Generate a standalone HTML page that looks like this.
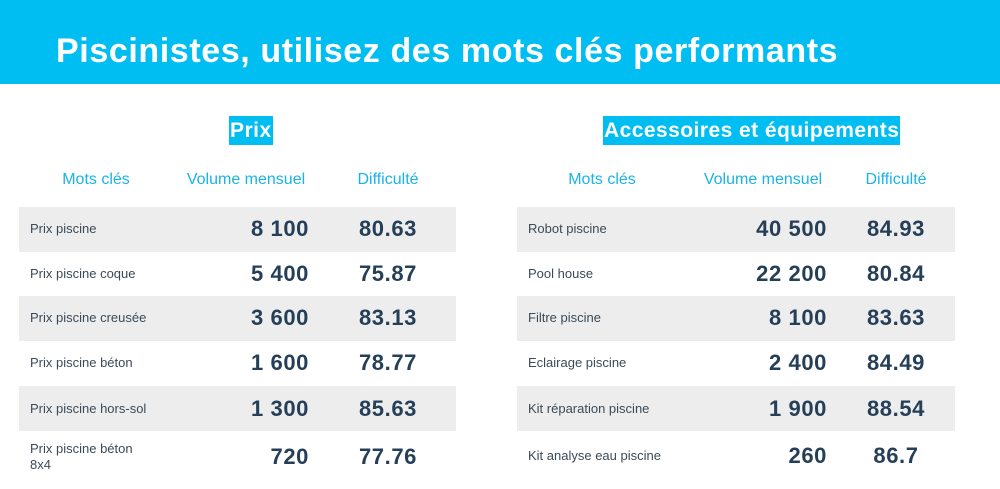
<!DOCTYPE html>
<html><head><meta charset="utf-8"><style>
body{margin:0;width:1000px;height:489px;background:#fff;font-family:"Liberation Sans",sans-serif;position:relative;overflow:hidden}
.hdr{position:absolute;left:0;top:0;width:1000px;height:84px;background:#00bdf2}
.title{position:absolute;left:56px;top:32px;font-size:34px;font-weight:bold;color:#fff;white-space:nowrap;letter-spacing:0.6px}
.sec{position:absolute;top:116px;height:29px;line-height:29px;background:#00bdf2;color:#fff;font-weight:bold;font-size:21px;padding:0 1px;white-space:nowrap}
.ch{position:absolute;top:171px;font-size:16px;color:#1ab3e6;transform:translateX(-50%);white-space:nowrap}
.row{position:absolute;height:45px}
.g{background:#ededed}
.k{position:absolute;font-size:13px;color:#3a4a58;line-height:16px}
.v{position:absolute;font-size:22px;font-weight:bold;color:#253f58;text-align:right;width:150px;letter-spacing:0.6px}
.d{position:absolute;font-size:22px;font-weight:bold;color:#253f58;text-align:center;width:120px;letter-spacing:0.6px}
</style></head><body>
<div class="hdr"></div>
<div class="title">Piscinistes, utilisez des mots clés performants</div>
<div class="sec" style="left:229px;letter-spacing:0.5px">Prix</div>
<div class="sec" style="left:603px;letter-spacing:0.45px">Accessoires et équipements</div>
<div class="ch" style="left:96px">Mots clés</div>
<div class="ch" style="left:246px">Volume mensuel</div>
<div class="ch" style="left:388px">Difficulté</div>
<div class="ch" style="left:602px">Mots clés</div>
<div class="ch" style="left:763px">Volume mensuel</div>
<div class="ch" style="left:896px">Difficulté</div>

<div class="row g" style="left:19px;top:207px;width:437px"></div>
<div class="row g" style="left:19px;top:296px;width:437px"></div>
<div class="row g" style="left:19px;top:386px;width:437px"></div>
<div class="row g" style="left:517px;top:207px;width:438px"></div>
<div class="row g" style="left:517px;top:296px;width:438px"></div>
<div class="row g" style="left:517px;top:386px;width:438px"></div>

<div class="k" style="left:30px;top:221px">Prix piscine</div>
<div class="k" style="left:30px;top:266px">Prix piscine coque</div>
<div class="k" style="left:30px;top:310px">Prix piscine creusée</div>
<div class="k" style="left:30px;top:355px">Prix piscine béton</div>
<div class="k" style="left:30px;top:401px">Prix piscine hors-sol</div>
<div class="k" style="left:30px;top:441px">Prix piscine béton<br>8x4</div>

<div class="v" style="left:159px;top:216px">8 100</div>
<div class="v" style="left:159px;top:261px">5 400</div>
<div class="v" style="left:159px;top:305px">3 600</div>
<div class="v" style="left:159px;top:350px">1 600</div>
<div class="v" style="left:159px;top:396px">1 300</div>
<div class="v" style="left:159px;top:444px">720</div>
<div class="d" style="left:328px;top:216px">80.63</div>
<div class="d" style="left:328px;top:261px">75.87</div>
<div class="d" style="left:328px;top:305px">83.13</div>
<div class="d" style="left:328px;top:350px">78.77</div>
<div class="d" style="left:328px;top:396px">85.63</div>
<div class="d" style="left:328px;top:444px">77.76</div>

<div class="k" style="left:528px;top:221px">Robot piscine</div>
<div class="k" style="left:528px;top:266px">Pool house</div>
<div class="k" style="left:528px;top:310px">Filtre piscine</div>
<div class="k" style="left:528px;top:355px">Eclairage piscine</div>
<div class="k" style="left:528px;top:401px">Kit réparation piscine</div>
<div class="k" style="left:528px;top:448px">Kit analyse eau piscine</div>

<div class="v" style="left:677px;top:216px">40 500</div>
<div class="v" style="left:677px;top:261px">22 200</div>
<div class="v" style="left:677px;top:305px">8 100</div>
<div class="v" style="left:677px;top:350px">2 400</div>
<div class="v" style="left:677px;top:396px">1 900</div>
<div class="v" style="left:677px;top:443px">260</div>
<div class="d" style="left:836px;top:216px">84.93</div>
<div class="d" style="left:836px;top:261px">80.84</div>
<div class="d" style="left:836px;top:305px">83.63</div>
<div class="d" style="left:836px;top:350px">84.49</div>
<div class="d" style="left:836px;top:396px">88.54</div>
<div class="d" style="left:836px;top:443px">86.7</div>
</body></html>
